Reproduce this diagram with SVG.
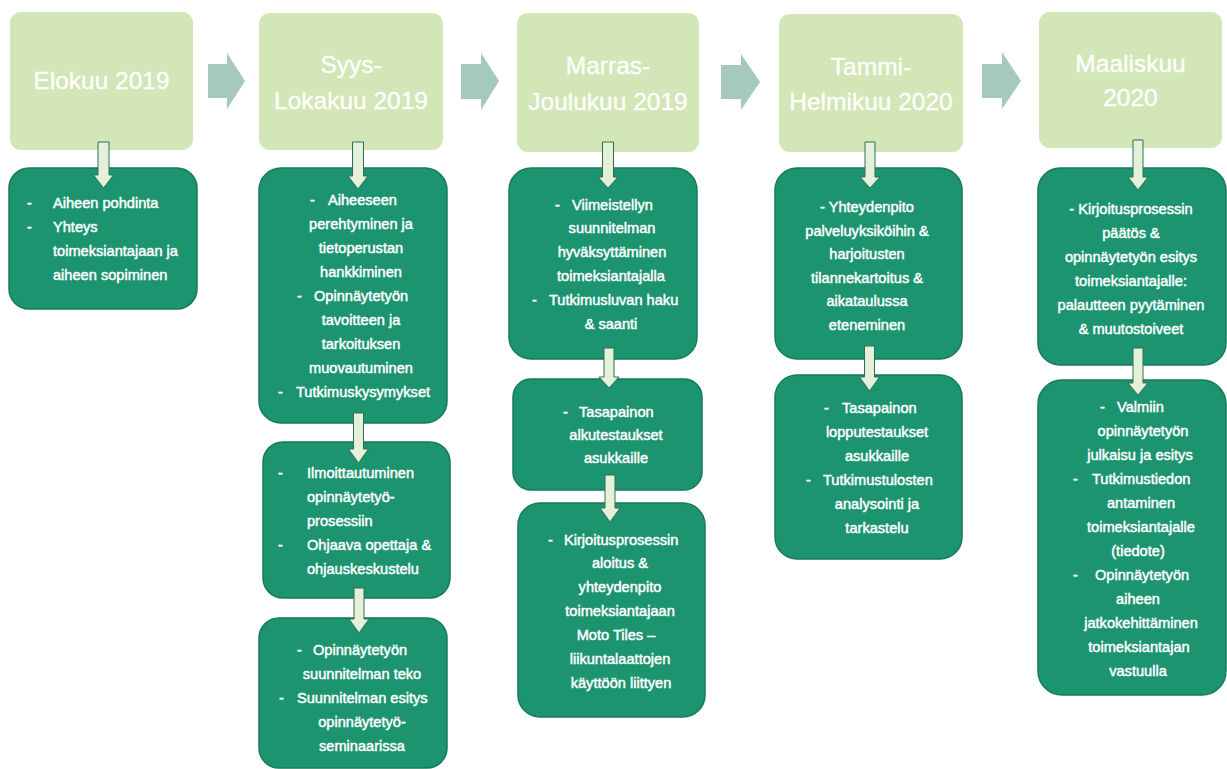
<svg xmlns="http://www.w3.org/2000/svg" width="1227" height="769" viewBox="0 0 1227 769">
<style>
.hd{fill:#d3e6b7;}
.hx{font-family:"Liberation Sans",Arial,sans-serif;font-size:24.5px;fill:#ffffff;stroke:#ffffff;stroke-width:0.3;text-anchor:middle;}
.bx{fill:#1d9470;stroke:#177a5b;stroke-width:1.5;}
.t{font-family:"Liberation Sans",Arial,sans-serif;font-size:14.6px;fill:#ffffff;stroke:#ffffff;stroke-width:0.45;}
.c{text-anchor:middle;}
.ra{fill:#a5c9bc;}
.da{fill:#e4f0d9;stroke:#2f6f50;stroke-width:1;}
</style>
<rect width="1227" height="769" fill="#ffffff"/>

<g id="h1"><rect class="hd" x="10" y="12" width="183" height="138" rx="11"/><text class="hx" x="101.5" y="89">Elokuu 2019</text></g>
<g id="h2"><rect class="hd" x="259" y="13" width="184" height="137" rx="11"/><text class="hx" x="351" y="73">Syys-</text><text class="hx" x="351" y="109">Lokakuu 2019</text></g>
<g id="h3"><rect class="hd" x="517" y="13" width="182" height="139" rx="11"/><text class="hx" x="608" y="74">Marras-</text><text class="hx" x="608" y="110">Joulukuu 2019</text></g>
<g id="h4"><rect class="hd" x="779" y="14" width="184" height="138" rx="11"/><text class="hx" x="871" y="75">Tammi-</text><text class="hx" x="871" y="110">Helmikuu 2020</text></g>
<g id="h5"><rect class="hd" x="1039" y="12" width="183" height="136" rx="11"/><text class="hx" x="1130.5" y="72">Maaliskuu</text><text class="hx" x="1130.5" y="106">2020</text></g>

<g id="b1"><rect class="bx" x="9" y="168" width="188" height="141" rx="20"/>
<text class="t"><tspan x="27" y="208">-</tspan><tspan x="53">Aiheen pohdinta</tspan></text>
<text class="t"><tspan x="27" y="232">-</tspan><tspan x="53">Yhteys</tspan></text>
<text class="t" x="53" y="256">toimeksiantajaan ja</text>
<text class="t" x="53" y="280">aiheen sopiminen</text>
</g>

<g id="b2"><rect class="bx" x="259" y="168" width="188" height="255" rx="22"/>
<text class="t"><tspan x="310" y="205">-</tspan><tspan x="328">Aiheeseen</tspan></text>
<text class="t c" x="361" y="229">perehtyminen ja</text>
<text class="t c" x="361" y="253">tietoperustan</text>
<text class="t c" x="361" y="277">hankkiminen</text>
<text class="t"><tspan x="297" y="301">-</tspan><tspan x="314">Opinnäytetyön</tspan></text>
<text class="t c" x="361" y="325">tavoitteen ja</text>
<text class="t c" x="361" y="349">tarkoituksen</text>
<text class="t c" x="361" y="373">muovautuminen</text>
<text class="t"><tspan x="278" y="397">-</tspan><tspan x="296">Tutkimuskysymykset</tspan></text>
</g>

<g id="b3"><rect class="bx" x="263" y="442" width="187" height="156" rx="20"/>
<text class="t"><tspan x="278" y="478">-</tspan><tspan x="307">Ilmoittautuminen</tspan></text>
<text class="t" x="307" y="502">opinnäytetyö-</text>
<text class="t" x="307" y="526">prosessiin</text>
<text class="t"><tspan x="278" y="550">-</tspan><tspan x="307">Ohjaava opettaja &amp;</tspan></text>
<text class="t" x="307" y="574">ohjauskeskustelu</text>
</g>

<g id="b4"><rect class="bx" x="259" y="618" width="188" height="150" rx="20"/>
<text class="t"><tspan x="297" y="655">-</tspan><tspan x="313">Opinnäytetyön</tspan></text>
<text class="t c" x="362" y="679">suunnitelman teko</text>
<text class="t"><tspan x="279" y="703">-</tspan><tspan x="297">Suunnitelman esitys</tspan></text>
<text class="t c" x="362" y="727">opinnäytetyö-</text>
<text class="t c" x="362" y="751">seminaarissa</text>
</g>

<g id="b5"><rect class="bx" x="509" y="168" width="188" height="191" rx="22"/>
<text class="t"><tspan x="555" y="210">-</tspan><tspan x="572">Viimeistellyn</tspan></text>
<text class="t c" x="612" y="233">suunnitelman</text>
<text class="t c" x="612" y="257">hyväksyttäminen</text>
<text class="t c" x="611" y="281">toimeksiantajalla</text>
<text class="t"><tspan x="532" y="305">-</tspan><tspan x="549">Tutkimusluvan haku</tspan></text>
<text class="t c" x="611" y="329">&amp; saanti</text>
</g>

<g id="b6"><rect class="bx" x="513" y="379" width="189" height="111" rx="18"/>
<text class="t"><tspan x="563" y="417">-</tspan><tspan x="579">Tasapainon</tspan></text>
<text class="t c" x="616" y="440">alkutestaukset</text>
<text class="t c" x="616" y="463">asukkaille</text>
</g>

<g id="b7"><rect class="bx" x="518" y="503" width="187" height="214" rx="22"/>
<text class="t"><tspan x="548" y="545">-</tspan><tspan x="564">Kirjoitusprosessin</tspan></text>
<text class="t c" x="620" y="568">aloitus &amp;</text>
<text class="t c" x="620" y="592">yhteydenpito</text>
<text class="t c" x="620" y="616">toimeksiantajaan</text>
<text class="t c" x="616" y="640">Moto Tiles –</text>
<text class="t c" x="620" y="664">liikuntalaattojen</text>
<text class="t c" x="621" y="688">käyttöön liittyen</text>
</g>

<g id="b8"><rect class="bx" x="775" y="168" width="187" height="191" rx="22"/>
<text class="t c" x="867" y="212">- Yhteydenpito</text>
<text class="t c" x="867" y="235.6">palveluyksiköihin &amp;</text>
<text class="t c" x="867" y="259.2">harjoitusten</text>
<text class="t c" x="867" y="282.8">tilannekartoitus &amp;</text>
<text class="t c" x="867" y="306.4">aikataulussa</text>
<text class="t c" x="867" y="330">eteneminen</text>
</g>

<g id="b9"><rect class="bx" x="775" y="375" width="187" height="184" rx="22"/>
<text class="t"><tspan x="824" y="413">-</tspan><tspan x="842">Tasapainon</tspan></text>
<text class="t c" x="877" y="437">lopputestaukset</text>
<text class="t c" x="877" y="461">asukkaille</text>
<text class="t"><tspan x="806" y="485">-</tspan><tspan x="823">Tutkimustulosten</tspan></text>
<text class="t c" x="877" y="509">analysointi ja</text>
<text class="t c" x="877" y="533">tarkastelu</text>
</g>

<g id="b10"><rect class="bx" x="1038" y="168" width="188" height="197" rx="22"/>
<text class="t c" x="1131" y="214">- Kirjoitusprosessin</text>
<text class="t c" x="1131" y="238">päätös &amp;</text>
<text class="t c" x="1131" y="262">opinnäytetyön esitys</text>
<text class="t c" x="1131" y="286">toimeksiantajalle:</text>
<text class="t c" x="1131" y="310">palautteen pyytäminen</text>
<text class="t c" x="1131" y="334">&amp; muutostoiveet</text>
</g>

<g id="b11"><rect class="bx" x="1038" y="380" width="188" height="315" rx="24"/>
<text class="t"><tspan x="1100" y="412">-</tspan><tspan x="1117">Valmiin</tspan></text>
<text class="t c" x="1143" y="436">opinnäytetyön</text>
<text class="t c" x="1140" y="460">julkaisu ja esitys</text>
<text class="t"><tspan x="1073" y="484">-</tspan><tspan x="1092">Tutkimustiedon</tspan></text>
<text class="t c" x="1141" y="508">antaminen</text>
<text class="t c" x="1141" y="532">toimeksiantajalle</text>
<text class="t c" x="1138" y="556">(tiedote)</text>
<text class="t"><tspan x="1073" y="580">-</tspan><tspan x="1095">Opinnäytetyön</tspan></text>
<text class="t c" x="1138" y="604">aiheen</text>
<text class="t c" x="1141" y="628">jatkokehittäminen</text>
<text class="t c" x="1139" y="652">toimeksiantajan</text>
<text class="t c" x="1138" y="676">vastuulla</text>
</g>

<g id="connectors">
<path class="ra" d="M208,64 H227 V53 L245,81 L227,109 V98 H208 Z"/>
<path class="ra" d="M461,64 H481 V53 L499,81 L481,110 V99 H461 Z"/>
<path class="ra" d="M721,65 H741 V54 L760,82 L741,110 V99 H721 Z"/>
<path class="ra" d="M982,64 H1002 V52 L1021,81 L1002,109 V98 H982 Z"/>

<path class="da" d="M98,142 V175 H93.5 L103.5,188 L113.5,175 H109 V142 Z"/>
<path class="da" d="M352.5,142 V176 H348 L358,189 L368,176 H363.5 V142 Z"/>
<path class="da" d="M353.5,413 V449 H348.5 L358.5,463 L368.5,449 H363.5 V413 Z"/>
<path class="da" d="M354,588 V619 H349 L359,633 L369,619 H364 V588 Z"/>
<path class="da" d="M602.5,142 V177 H598 L608,188 L618,177 H613.5 V142 Z"/>
<path class="da" d="M604,348 V377 H599 L609,388 L619,377 H614 V348 Z"/>
<path class="da" d="M605,475 V508 H600 L610,522 L620,508 H615 V475 Z"/>
<path class="da" d="M865,142 V177 H860 L870,188 L880,177 H875 V142 Z"/>
<path class="da" d="M864.5,346 V377 H859.5 L869.5,391 L879.5,377 H874.5 V346 Z"/>
<path class="da" d="M1133,140 V177 H1128 L1138,190 L1148,177 H1143 V140 Z"/>
<path class="da" d="M1133,348 V383 H1128 L1138,395 L1148,383 H1143 V348 Z"/>
</g>
</svg>
